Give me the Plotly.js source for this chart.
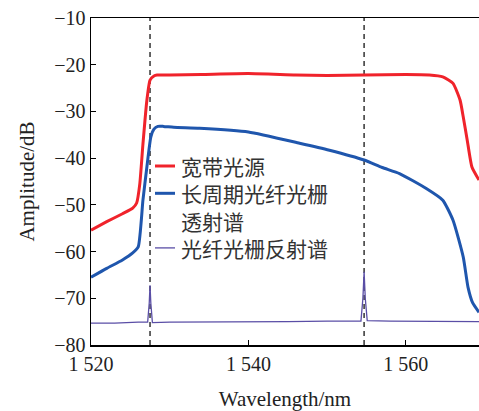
<!DOCTYPE html>
<html>
<head>
<meta charset="utf-8">
<script src="https://cdn.plot.ly/plotly-3.0.1.min.js"></script>
<style>html,body{margin:0;padding:0;background:#fff;}#chart{width:479px;height:411px;}</style>
</head>
<body>
<div id="chart"></div>
<script>
// Series names (legend lines)
const seriesNames = ['宽带光源', '长周期光纤光栅\n透射谱', '光纤光栅反射谱'];
const seriesColors = ['#f0232b', '#1f56ad', '#5a4ea6'];
const seriesWidths = [3, 3, 1.3];

// Broadband source (red)
const redWl  = [1520, 1522, 1524, 1525.3, 1525.8, 1526.2, 1526.6, 1527.1, 1527.5, 1528.0, 1528.4, 1530, 1534, 1540, 1546, 1550, 1554.7, 1560, 1563, 1564.7, 1566.0, 1566.9, 1567.3, 1567.8, 1568.4, 1569.3];
const redDb  = [-55.4, -53.6, -51.9, -50.7, -49.6, -45.5, -37.0, -27.6, -23.3, -22.4, -22.2, -22.2, -22.1, -21.9, -22.2, -22.3, -22.2, -22.1, -22.2, -22.6, -24.0, -27.6, -31.2, -36.1, -41.9, -44.7];

// LPFG transmission (blue)
const blueWl = [1520, 1522, 1524, 1525.3, 1526.0, 1526.6, 1527.1, 1527.6, 1528.0, 1528.5, 1529.2, 1530.5, 1533.8, 1540, 1546.5, 1550.3, 1554.7, 1557.0, 1559.2, 1562.6, 1564.7, 1566.0, 1567.3, 1567.9, 1568.5, 1569.3];
const blueDb = [-65.5, -63.6, -61.8, -60.3, -59.0, -49.0, -41.9, -35.5, -33.8, -33.2, -33.2, -33.4, -33.6, -34.4, -36.8, -38.3, -40.4, -42.0, -43.3, -46.5, -49.0, -53.3, -61.2, -67.6, -71.0, -73.0];

// FBG reflection (purple)
const purpleWl = [1520, 1523, 1526, 1527.2, 1527.4, 1527.5, 1527.6, 1527.8, 1530, 1535, 1540, 1545, 1550, 1554.3, 1554.55, 1554.7, 1554.85, 1555.1, 1558, 1562, 1566, 1569.3];
const purpleDb = [-75.3, -75.3, -75.1, -75.1, -71.0, -67.2, -71.0, -75.2, -75.1, -75.1, -75.0, -75.0, -74.9, -74.9, -70.0, -64.3, -70.0, -74.8, -74.9, -74.9, -75.0, -75.0];

// Grating wavelengths marked by dashed lines
const markerWl = [1527.5, 1554.7];

// Axis ticks
const xTickVals = [1520, 1540, 1560];
const xTickText = ['1 520', '1 540', '1 560'];
const yTickVals = [-80, -70, -60, -50, -40, -30, -20, -10];

const xs = [redWl, blueWl, purpleWl];
const ys = [redDb, blueDb, purpleDb];
const traces = xs.map((x, i) => ({
  x: x, y: ys[i], name: seriesNames[i].replace('\n', ''), mode: 'lines',
  line: i < 2 ? {color: seriesColors[i], width: seriesWidths[i], shape: 'spline', smoothing: 0.5}
              : {color: seriesColors[i], width: seriesWidths[i]}
}));

// Plot box geometry (pixels) for placing the hand-drawn legend
const W = 479, H = 411, ML = 91, MR = 0, MT = 18, MB = 66;
const pw = W - ML - MR, ph = H - MT - MB;
const px = v => (v - ML) / pw;
const py = v => (H - MB - v) / ph;

const shapes = markerWl.map(w => ({
  type: 'line', xref: 'x', yref: 'paper', x0: w, x1: w, y0: 0, y1: 1,
  line: {color: '#333', width: 1.5, dash: '5px,4px'}, layer: 'below'
}));

// Legend: text block in one annotation, line samples as shapes
const legendFont = 21;
const lineStep = legendFont * 1.3;
const firstRowY = 166;
const allLines = [];
seriesNames.forEach((name, i) => {
  const rowY = firstRowY + allLines.length * lineStep;
  shapes.push({
    type: 'line', xref: 'paper', yref: 'paper',
    x0: px(155), x1: px(175), y0: py(rowY), y1: py(rowY),
    line: {color: seriesColors[i], width: seriesWidths[i]}
  });
  name.split('\n').forEach(t => allLines.push(t));
});
const blockMid = firstRowY + (allLines.length - 1) * lineStep / 2;
const annotations = [{
  xref: 'paper', yref: 'paper', x: px(180), y: py(blockMid),
  xanchor: 'left', yanchor: 'middle', align: 'left', showarrow: false,
  text: allLines.join('<br>'), borderpad: 0,
  font: {family: 'Noto Sans CJK SC, sans-serif', size: legendFont, color: '#333'}
}];

const serif = 'Liberation Serif, Times New Roman, serif';
const layout = {
  width: W, height: H,
  margin: {l: ML, r: MR, t: MT, b: MB},
  paper_bgcolor: '#fff', plot_bgcolor: '#fff',
  showlegend: false,
  xaxis: {
    range: [1520, 1569.3], tickvals: xTickVals, ticktext: xTickText,
    ticks: 'inside', ticklen: 5, tickwidth: 1.2, tickcolor: '#000',
    showline: true, linecolor: '#000', linewidth: 1.5, mirror: true,
    showgrid: false, zeroline: false,
    tickfont: {family: serif, size: 20, color: '#222'},
    title: {text: 'Wavelength/nm', font: {family: serif, size: 21, color: '#222'}, standoff: 26}
  },
  yaxis: {
    range: [-80, -10], tickvals: yTickVals,
    ticks: 'inside', ticklen: 5, tickwidth: 1.2, tickcolor: '#000',
    showline: true, linecolor: '#000', linewidth: 1.5,
    showgrid: false, zeroline: false,
    tickfont: {family: serif, size: 20, color: '#222'},
    title: {text: 'Amplitude/dB', font: {family: serif, size: 21, color: '#222'}, standoff: 14}
  },
  shapes: shapes,
  annotations: annotations
};

Plotly.newPlot('chart', traces, layout, {displayModeBar: false, staticPlot: true});
</script>
</body>
</html>
